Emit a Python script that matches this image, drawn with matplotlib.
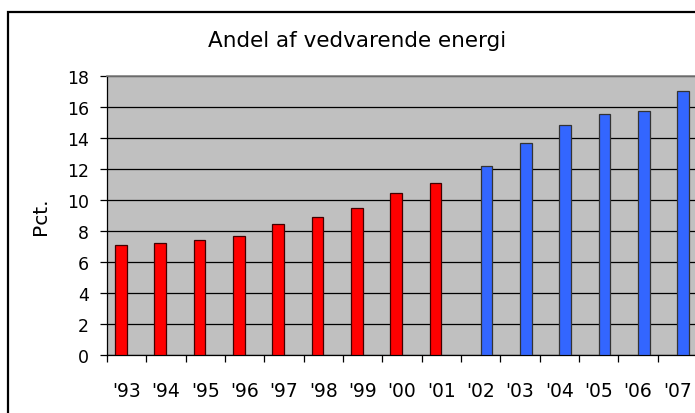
import numpy as np
import matplotlib
matplotlib.use('Agg')
import matplotlib.pyplot as plt
from matplotlib.patches import Rectangle

# Andel af vedvarende energi (pct.)
years = ["'93", "'94", "'95", "'96", "'97", "'98", "'99", "'00", "'01",
         "'02", "'03", "'04", "'05", "'06", "'07"]
red_vals = [7.1, 7.2, 7.4, 7.65, 8.45, 8.9, 9.45, 10.45, 11.1]
blue_vals = [12.2, 13.65, 14.85, 15.55, 15.7, 17.0]

x = np.arange(len(years))
n_red = len(red_vals)

fig = plt.figure(figsize=(6.95, 4.14), dpi=100)
ax = fig.add_axes([107/695, 1 - 356/414, 590/695, (356 - 76.7)/414])
ax.set_facecolor('#C0C0C0')

ax.bar(x[:n_red] - 0.15, red_vals, width=0.3, color='#FF0000',
       edgecolor='#400000', linewidth=0.9, zorder=3)
ax.bar(x[n_red:] + 0.15, blue_vals, width=0.3, color='#3366FF',
       edgecolor='#333333', linewidth=0.9, zorder=3)

ax.set_xlim(-0.5, len(years) - 0.5)
ax.set_ylim(0, 18)
ax.set_yticks(np.arange(0, 19, 2))
ax.yaxis.grid(True, color='black', linewidth=0.9, zorder=1)
ax.set_axisbelow(True)

ax.set_xticks(x)
ax.set_xticklabels(years, fontsize=13.5)
ax.set_xticks(np.arange(-0.5, len(years), 1), minor=True)
ax.tick_params(axis='x', which='major', length=0, pad=19)
ax.tick_params(axis='x', which='minor', length=5, width=0.9, direction='out')
ax.tick_params(axis='y', length=5, width=0.9, pad=8, labelsize=12.5)

for s in ['left', 'bottom']:
    ax.spines[s].set_color('black')
    ax.spines[s].set_linewidth(0.9)
ax.spines['top'].set_color('#808080')
ax.spines['top'].set_linewidth(1.2)
ax.spines['right'].set_visible(False)

ax.set_ylabel('Pct.', fontsize=14.5, labelpad=12)

fig.text(357/695, 1 - 41/414, 'Andel af vedvarende energi', fontsize=15.5,
         ha='center', va='center')

# chart border
fig.patches.append(Rectangle((8/695, -0.1), 1.2, 1 - 13/414 + 0.1,
                             transform=fig.transFigure, fill=False,
                             edgecolor='black', linewidth=1.6, clip_on=False))

plt.savefig('out.png', dpi=100)
